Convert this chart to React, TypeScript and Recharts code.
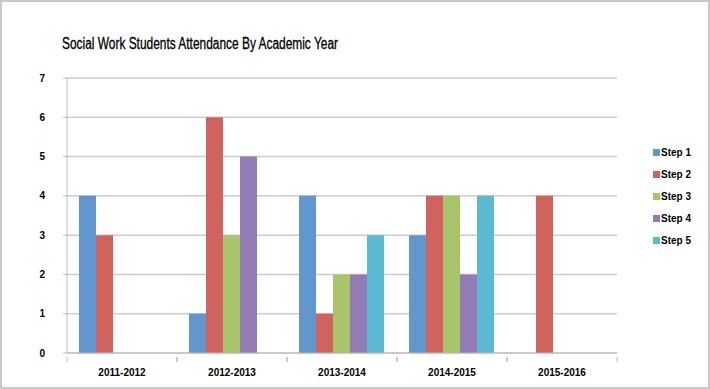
import React from 'react';
import { BarChart, Bar, XAxis, YAxis, CartesianGrid } from 'recharts';

const years = ['2011-2012', '2012-2013', '2013-2014', '2014-2015', '2015-2016'];
const step1 = [4, 1, 4, 3, 0];
const step2 = [3, 6, 1, 4, 4];
const step3 = [0, 3, 2, 4, 0];
const step4 = [0, 5, 2, 2, 0];
const step5 = [0, 0, 3, 4, 0];
const yTicks = [0, 1, 2, 3, 4, 5, 6, 7];

const series = [
  { key: 'step1', name: 'Step 1', color: '#6196CE' },
  { key: 'step2', name: 'Step 2', color: '#D0635E' },
  { key: 'step3', name: 'Step 3', color: '#A8C56B' },
  { key: 'step4', name: 'Step 4', color: '#937BB5' },
  { key: 'step5', name: 'Step 5', color: '#5BBAD2' },
];

const data = years.map((year, i) => ({
  year,
  step1: step1[i],
  step2: step2[i],
  step3: step3[i],
  step4: step4[i],
  step5: step5[i],
}));

const tickFont = { fontFamily: '"Liberation Sans", Arial, sans-serif', fontSize: 10, fontWeight: 700, fill: '#000' };

// category label centred, with small tick marks at the category boundaries
const YearTick = (props: any) => {
  const { x, y, payload } = props;
  const half = payload && payload.offset ? payload.offset : 55;
  return (
    <g>
      <line x1={x - half} y1={y - 4} x2={x - half} y2={y + 1} stroke="#bbbbbb" />
      <line x1={x + half} y1={y - 4} x2={x + half} y2={y + 1} stroke="#bbbbbb" />
      <text x={x} y={y + 15} textAnchor="middle" {...tickFont}>
        {payload.value}
      </text>
    </g>
  );
};

export default function App() {
  return (
    <div
      style={{
        position: 'absolute',
        left: 0,
        top: 0,
        width: 710,
        height: 389,
        boxSizing: 'border-box',
        border: '2px solid #c8c8c8',
        background: '#fff',
      }}
    >
      <svg width={700} height={50} style={{ position: 'absolute', left: -2, top: 14 }}>
        <text
          x={62}
          y={33}
          textLength={276}
          lengthAdjust="spacingAndGlyphs"
          fontFamily='"Liberation Sans", Arial, sans-serif'
          fontSize={16}
          fill="#000"
          stroke="#000"
          strokeWidth={0.3}
        >
          Social Work Students Attendance By Academic Year
        </text>
      </svg>
      <div style={{ position: 'absolute', left: -2, top: -2 }}>
        <BarChart
          width={710}
          height={389}
          data={data}
          margin={{ top: 78, right: 93, bottom: 6, left: 0 }}
          barCategoryGap={12}
          barGap={0}
        >
          <CartesianGrid vertical={false} stroke="#cccccc" strokeWidth={1.5} />
          <XAxis
            dataKey="year"
            height={30}
            stroke="#bbbbbb"
            tickLine={false}
            interval={0}
            tick={<YearTick />}
          />
          <YAxis
            width={67}
            domain={[0, 7]}
            ticks={yTicks}
            interval={0}
            stroke="#bbbbbb"
            tickSize={4}
            tickMargin={18}
            tick={tickFont}
          />
          {series.map((s) => (
            <Bar key={s.key} dataKey={s.key} name={s.name} fill={s.color} isAnimationActive={false} />
          ))}
        </BarChart>
      </div>
      <div style={{ position: 'absolute', left: 651, top: 139 }}>
        {series.map((s) => (
          <div key={s.key} style={{ display: 'flex', alignItems: 'center', height: 22 }}>
            <span style={{ width: 7, height: 7, background: s.color, marginRight: 1 }} />
            <span style={{ fontFamily: '"Liberation Sans", Arial, sans-serif', fontSize: 10, fontWeight: 700 }}>
              {s.name}
            </span>
          </div>
        ))}
      </div>
    </div>
  );
}
